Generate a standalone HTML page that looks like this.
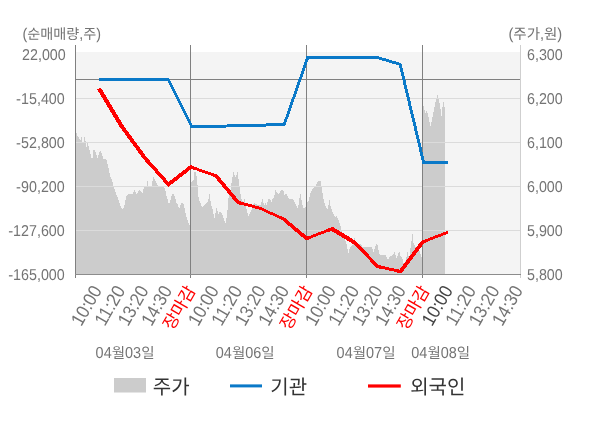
<!DOCTYPE html>
<html lang="ko">
<head>
<meta charset="utf-8">
<title>순매매량 / 주가 차트</title>
<style>
html,body{margin:0;padding:0;background:#fff;}
body{width:600px;height:428px;overflow:hidden;font-family:"Liberation Sans","Noto Sans CJK KR",sans-serif;}
svg{display:block;will-change:transform;}
svg text{font-family:"Liberation Sans","Noto Sans CJK KR",sans-serif;text-rendering:geometricPrecision;}
</style>
</head>
<body>
<svg width="600" height="428" viewBox="0 0 600 428" font-family="'Liberation Sans', 'Noto Sans CJK KR', sans-serif">
<rect width="600" height="428" fill="#fff"/>
<rect x="76" y="52" width="444" height="222" fill="#f4f4f4"/>
<path d="M76,274.5 L76,133 L76.5,133 L77.5,135.5 L78.5,137.5 L79.5,139.5 L80.5,140 L81.5,137 L82.5,141.5 L83.5,142 L84.5,137 L85.5,141 L86.5,146.6 L87.5,143 L88.5,145.6 L89.5,149.6 L90.5,154 L91.5,158 L92.5,158 L93.5,150 L94.5,150 L95.5,151.6 L96.5,155 L97.5,158 L98.5,155 L99.5,152 L100.5,150.6 L101.5,153 L102.5,156 L103.5,158.6 L104.5,159 L105.5,159 L106.5,160 L107.5,164 L108.5,168 L109.5,173 L110.5,177 L111.5,178.6 L112.5,182 L113.5,186 L114.5,189 L115.5,192 L116.5,194.6 L117.5,197 L118.5,200 L119.5,203 L120.5,206 L121.5,208 L122.5,209 L123.5,208 L124.5,205 L125.5,200 L126.5,196 L127.5,194.6 L128.5,194 L129.5,194 L130.5,194 L131.5,194 L132.5,193.6 L133.5,192 L134.5,190 L135.5,191.6 L136.5,193.6 L137.5,193 L138.5,191 L139.5,190 L140.5,190.6 L141.5,192 L142.5,192.6 L143.5,189 L144.5,187 L145.5,186 L146.5,186 L147.5,181 L148.5,185.5 L149.5,186.5 L150.5,186.5 L151.5,186 L152.5,181 L153.5,177 L154.5,179 L155.5,181 L156.5,183 L157.5,185 L158.5,186 L159.5,186 L160.5,186 L161.5,186 L162.5,186 L163.5,186 L164.5,187.5 L165.5,191 L166.5,195.6 L167.5,199.3 L168.5,202.5 L169.5,202.6 L170.5,199.6 L171.5,195.6 L172.5,194 L173.5,194 L174.5,195.6 L175.5,199 L176.5,203 L177.5,204 L178.5,206.5 L179.5,207.6 L180.5,205.2 L181.5,203 L182.5,203 L183.5,204 L184.5,207.8 L185.5,212.8 L186.5,216.8 L187.5,220 L188.5,223 L189.5,224.6 L191.5,181.5 L192.5,181 L193.5,180 L194.5,172 L195.5,172 L196.5,176 L197.5,185 L198.5,197 L199.5,200.5 L200.5,203 L201.5,205.5 L202.5,207 L203.5,206 L204.5,204.5 L205.5,203.5 L206.5,203 L207.5,202 L208.5,199 L209.5,194 L210.5,201 L211.5,206 L212.5,209 L213.5,214 L214.5,218 L215.5,213 L216.5,208 L217.5,210.6 L218.5,214 L219.5,212 L220.5,211.6 L221.5,212.6 L222.5,215 L223.5,217.6 L224.5,220.6 L225.5,223 L226.5,218 L227.5,210 L228.5,198 L229.5,195 L230.5,191 L231.5,183.5 L232.5,177 L233.5,172 L234.5,175 L235.5,177 L236.5,175 L237.5,172 L238.5,179 L239.5,186 L240.5,194 L241.5,199 L242.5,201 L243.5,203 L244.5,199 L245.5,205.5 L246.5,209 L247.5,213 L248.5,215.6 L249.5,213.6 L250.5,211.6 L251.5,209.6 L252.5,207.6 L253.5,203.6 L254.5,203 L255.5,204 L256.5,204.5 L257.5,204.5 L258.5,204.5 L259.5,204.5 L260.5,204.6 L261.5,202 L262.5,199 L263.5,203.3 L264.5,205 L265.5,203 L266.5,205.3 L267.5,202 L268.5,199 L269.5,199.5 L270.5,200 L271.5,202 L272.5,199.3 L273.5,198 L274.5,195 L275.5,190 L276.5,191.6 L277.5,193 L278.5,194 L279.5,193 L280.5,191 L281.5,190 L282.5,190 L283.5,191 L284.5,194.6 L285.5,194 L286.5,194 L287.5,195.6 L288.5,198 L289.5,199 L290.5,199 L291.5,199 L292.5,199 L293.5,200 L294.5,201.6 L295.5,203.6 L296.5,206 L297.5,208.3 L298.5,205.5 L299.5,198.5 L300.5,194 L301.5,200 L302.5,205 L303.5,207.8 L304.5,208 L305.5,207.5 L307.5,202 L308.5,201 L309.5,197.5 L310.5,192.8 L311.5,190.6 L312.5,189 L313.5,187.6 L314.5,186.6 L315.5,185.6 L316.5,184 L317.5,182 L318.5,181 L319.5,181 L320.5,181 L321.5,186 L322.5,193 L323.5,199 L324.5,203 L325.5,205.8 L326.5,207.8 L327.5,208.6 L328.5,205 L329.5,199.5 L330.5,205.5 L331.5,209 L332.5,212 L333.5,213.6 L334.5,215.6 L335.5,217 L336.5,216.3 L337.5,218 L338.5,220.3 L339.5,223 L340.5,226.3 L341.5,230 L342.5,233 L343.5,235 L344.5,237.6 L345.5,240.6 L346.5,244 L347.5,248.5 L348.5,252.6 L349.5,249.5 L350.5,246.8 L351.5,246 L352.5,245 L353.5,242 L354.5,238 L355.5,244 L356.5,246 L357.5,246 L358.5,245 L359.5,244 L360.5,243.5 L361.5,245 L362.5,246.6 L363.5,247 L364.5,247 L365.5,247 L366.5,247 L367.5,247 L368.5,247 L369.5,247 L370.5,247 L371.5,247 L372.5,249 L373.5,252 L374.5,249 L375.5,246.3 L376.5,243.8 L377.5,244.5 L378.5,249.5 L379.5,254 L380.5,255.4 L381.5,255.4 L382.5,255.4 L383.5,255.4 L384.5,255.4 L385.5,255.4 L386.5,257 L387.5,259 L388.5,259 L389.5,257 L390.5,256 L391.5,255.6 L392.5,255 L393.5,253.8 L394.5,252 L395.5,255 L396.5,258 L397.5,255.6 L398.5,252.8 L399.5,252 L400.5,255.6 L401.5,256.6 L402.5,259 L403.5,262.6 L404.5,264 L405.5,261 L406.5,257 L407.5,252 L408.5,255.6 L409.5,256 L410.5,248 L411.5,241 L412.5,234.3 L413.5,242.5 L414.5,245 L415.5,247 L416.5,249 L417.5,250 L418.5,250.5 L419.5,250.6 L420.5,254 L421.5,258 L423.5,106 L424.5,109.6 L425.5,113 L426.5,111 L427.5,113 L428.5,117 L429.5,122 L430.5,126 L431.5,122 L432.5,117 L433.5,112 L434.5,107 L435.5,102 L436.5,98 L437.5,95 L438.5,99 L439.5,103 L440.5,109 L441.5,116 L442.5,107 L443.5,102 L444.5,107 L445,107 L445,274.5 Z" fill="#cccccc" shape-rendering="crispEdges"/>
<rect x="76" y="98" width="444" height="1" fill="#dbdbdb"/>
<rect x="76" y="142" width="444" height="1" fill="#dbdbdb"/>
<rect x="76" y="186" width="444" height="1" fill="#dbdbdb"/>
<rect x="76" y="230" width="444" height="1" fill="#dbdbdb"/>
<rect x="520" y="45" width="1" height="233" fill="#cfcfcf"/>
<rect x="76" y="79" width="444" height="1" fill="#808080"/>
<rect x="75" y="45" width="1" height="233" fill="#808080"/>
<rect x="190" y="45" width="1" height="233" fill="#808080"/>
<rect x="306" y="45" width="1" height="233" fill="#808080"/>
<rect x="422" y="45" width="1" height="233" fill="#808080"/>
<rect x="75" y="274" width="446" height="1" fill="#8c8c8c"/>
<g stroke="#0a79c8" fill="none" stroke-linejoin="miter" stroke-miterlimit="8" shape-rendering="crispEdges"><line x1="99" y1="79.5" x2="122.1" y2="79.5" stroke-width="3"/><line x1="122.1" y1="79.5" x2="145.3" y2="79.5" stroke-width="3"/><line x1="145.3" y1="79.5" x2="168.4" y2="79.5" stroke-width="3"/><line x1="168.4" y1="79.5" x2="191.6" y2="126.5" stroke-width="2.69"/><line x1="191.6" y1="126.5" x2="214" y2="126.25" stroke-width="3"/><line x1="214" y1="126.25" x2="237.2" y2="125.8" stroke-width="3"/><line x1="237.2" y1="125.8" x2="260.3" y2="125.2" stroke-width="3"/><line x1="260.3" y1="125.2" x2="284.3" y2="124.4" stroke-width="3"/><line x1="284.3" y1="124.4" x2="307.7" y2="57.5" stroke-width="2.83"/><line x1="307.7" y1="57.5" x2="329.8" y2="57.5" stroke-width="3"/><line x1="329.8" y1="57.5" x2="353" y2="57.5" stroke-width="3"/><line x1="353" y1="57.5" x2="377.3" y2="57.5" stroke-width="3"/><line x1="377.3" y1="57.5" x2="400.2" y2="64.4" stroke-width="2.87"/><line x1="400.2" y1="64.4" x2="423.6" y2="162.4" stroke-width="2.92"/><line x1="423.6" y1="162.4" x2="447.8" y2="162.4" stroke-width="3"/><polyline stroke-width="3" points="118.1,79.5 122.1,79.5 126.1,79.5"/><polyline stroke-width="3" points="141.3,79.5 145.3,79.5 149.3,79.5"/><polyline stroke-width="2.85" points="164.4,79.5 168.4,79.5 170.17,83.09"/><polyline stroke-width="2.84" points="189.83,122.91 191.6,126.5 195.6,126.46"/><polyline stroke-width="3" points="210,126.29 214,126.25 218,126.17"/><polyline stroke-width="3" points="233.2,125.88 237.2,125.8 241.2,125.7"/><polyline stroke-width="3" points="256.3,125.3 260.3,125.2 264.3,125.07"/><polyline stroke-width="2.92" points="280.3,124.53 284.3,124.4 285.62,120.62"/><polyline stroke-width="2.92" points="306.38,61.28 307.7,57.5 311.7,57.5"/><polyline stroke-width="3" points="325.8,57.5 329.8,57.5 333.8,57.5"/><polyline stroke-width="3" points="349,57.5 353,57.5 357,57.5"/><polyline stroke-width="2.94" points="373.3,57.5 377.3,57.5 381.13,58.65"/><polyline stroke-width="2.9" points="396.37,63.25 400.2,64.4 401.13,68.29"/><polyline stroke-width="2.96" points="422.67,158.51 423.6,162.4 427.6,162.4"/></g>
<g stroke="#ff0000" fill="none" stroke-linejoin="miter" stroke-miterlimit="8" shape-rendering="crispEdges"><line x1="99" y1="88.6" x2="122" y2="126.8" stroke-width="4.11"/><line x1="122" y1="126.8" x2="145.5" y2="158.8" stroke-width="3.87"/><line x1="145.5" y1="158.8" x2="168.5" y2="184.4" stroke-width="3.57"/><line x1="168.5" y1="184.4" x2="190.8" y2="167" stroke-width="3.78"/><line x1="190.8" y1="167" x2="215.8" y2="175.7" stroke-width="2.83"/><line x1="215.8" y1="175.7" x2="238.1" y2="202.5" stroke-width="3.69"/><line x1="238.1" y1="202.5" x2="260.4" y2="208.3" stroke-width="2.9"/><line x1="260.4" y1="208.3" x2="283.7" y2="219.2" stroke-width="2.72"/><line x1="283.7" y1="219.2" x2="306.7" y2="238.5" stroke-width="3.68"/><line x1="306.7" y1="238.5" x2="332" y2="228.8" stroke-width="2.8"/><line x1="332" y1="228.8" x2="354.8" y2="242.7" stroke-width="4.1"/><line x1="354.8" y1="242.7" x2="377.7" y2="266.5" stroke-width="3.46"/><line x1="377.7" y1="266.5" x2="400.5" y2="271.5" stroke-width="2.93"/><line x1="400.5" y1="271.5" x2="422.7" y2="242" stroke-width="3.84"/><line x1="422.7" y1="242" x2="448.2" y2="232" stroke-width="2.79"/><polyline stroke-width="3.99" points="119.94,123.37 122,126.8 124.37,130.02"/><polyline stroke-width="3.72" points="143.13,155.58 145.5,158.8 148.17,161.78"/><polyline stroke-width="3.68" points="165.83,181.42 168.5,184.4 171.65,181.94"/><polyline stroke-width="3.31" points="187.65,169.46 190.8,167 194.58,168.31"/><polyline stroke-width="3.26" points="212.02,174.39 215.8,175.7 218.36,178.77"/><polyline stroke-width="3.3" points="235.54,199.43 238.1,202.5 241.97,203.51"/><polyline stroke-width="2.81" points="256.53,207.29 260.4,208.3 264.02,209.99"/><polyline stroke-width="3.2" points="280.08,217.51 283.7,219.2 286.76,221.77"/><polyline stroke-width="3.24" points="303.64,235.93 306.7,238.5 310.43,237.07"/><polyline stroke-width="3.45" points="328.27,230.23 332,228.8 335.42,230.88"/><polyline stroke-width="3.78" points="351.38,240.62 354.8,242.7 357.57,245.58"/><polyline stroke-width="3.19" points="374.93,263.62 377.7,266.5 381.61,267.36"/><polyline stroke-width="3.38" points="396.59,270.64 400.5,271.5 402.91,268.3"/><polyline stroke-width="3.31" points="420.29,245.2 422.7,242 426.42,240.54"/></g>
<g fill="#747474" font-size="14.3"><text x="22.04" y="59.7" font-size="15.73" textLength="43.66" lengthAdjust="spacingAndGlyphs">22,000</text></g>
<g fill="#747474" font-size="14.3"><text y="104.1" font-size="15.73"><tspan x="16.08" textLength="4.96" lengthAdjust="spacingAndGlyphs">-</tspan><tspan x="21.04" textLength="43.66" lengthAdjust="spacingAndGlyphs">15,400</tspan></text></g>
<g fill="#747474" font-size="14.3"><text y="148.1" font-size="15.73"><tspan x="16.08" textLength="4.96" lengthAdjust="spacingAndGlyphs">-</tspan><tspan x="21.04" textLength="43.66" lengthAdjust="spacingAndGlyphs">52,800</tspan></text></g>
<g fill="#747474" font-size="14.3"><text y="192.1" font-size="15.73"><tspan x="16.08" textLength="4.96" lengthAdjust="spacingAndGlyphs">-</tspan><tspan x="21.04" textLength="43.66" lengthAdjust="spacingAndGlyphs">90,200</tspan></text></g>
<g fill="#747474" font-size="14.3"><text y="236.1" font-size="15.73"><tspan x="8.14" textLength="4.96" lengthAdjust="spacingAndGlyphs">-</tspan><tspan x="13.11" textLength="51.59" lengthAdjust="spacingAndGlyphs">127,600</tspan></text></g>
<g fill="#747474" font-size="14.3"><text y="280.1" font-size="15.73"><tspan x="8.14" textLength="4.96" lengthAdjust="spacingAndGlyphs">-</tspan><tspan x="13.11" textLength="51.59" lengthAdjust="spacingAndGlyphs">165,000</tspan></text></g>
<g fill="#747474" font-size="14.3"><text x="527" y="59.6" font-size="15.73" textLength="35.72" lengthAdjust="spacingAndGlyphs">6,300</text></g>
<g fill="#747474" font-size="14.3"><text x="527" y="104.1" font-size="15.73" textLength="35.72" lengthAdjust="spacingAndGlyphs">6,200</text></g>
<g fill="#747474" font-size="14.3"><text x="527" y="148.1" font-size="15.73" textLength="35.72" lengthAdjust="spacingAndGlyphs">6,100</text></g>
<g fill="#747474" font-size="14.3"><text x="527" y="192.1" font-size="15.73" textLength="35.72" lengthAdjust="spacingAndGlyphs">6,000</text></g>
<g fill="#747474" font-size="14.3"><text x="527" y="236.1" font-size="15.73" textLength="35.72" lengthAdjust="spacingAndGlyphs">5,900</text></g>
<g fill="#747474" font-size="14.3"><text x="527" y="280.1" font-size="15.73" textLength="35.72" lengthAdjust="spacingAndGlyphs">5,800</text></g>
<g fill="#747474" font-size="14.15"><text x="22.4" y="39" font-size="15.57" textLength="4.78" lengthAdjust="spacingAndGlyphs">(</text><text x="27.18" y="39" textLength="52.07" lengthAdjust="spacingAndGlyphs">순매매량</text><text x="79.25" y="39" font-size="15.57" textLength="3.93" lengthAdjust="spacingAndGlyphs">,</text><text x="83.19" y="39">주</text><text x="96.21" y="39" font-size="15.57" textLength="4.78" lengthAdjust="spacingAndGlyphs">)</text></g>
<g fill="#747474" font-size="14.5"><text x="508.4" y="39" font-size="15.95" textLength="4.9" lengthAdjust="spacingAndGlyphs">(</text><text x="513.3" y="39" textLength="26.68" lengthAdjust="spacingAndGlyphs">주가</text><text x="539.98" y="39" font-size="15.95" textLength="4.03" lengthAdjust="spacingAndGlyphs">,</text><text x="544.01" y="39">원</text><text x="557.35" y="39" font-size="15.95" textLength="4.9" lengthAdjust="spacingAndGlyphs">)</text></g>
<g fill="#747474" font-size="14.5"><text x="95.6" y="358.3" font-size="15.95" textLength="16.09" lengthAdjust="spacingAndGlyphs">04</text><text x="111.69" y="358.3">월</text><text x="125.03" y="358.3" font-size="15.95" textLength="16.09" lengthAdjust="spacingAndGlyphs">03</text><text x="141.13" y="358.3">일</text></g>
<g fill="#747474" font-size="14.5"><text x="215.8" y="358.3" font-size="15.95" textLength="16.09" lengthAdjust="spacingAndGlyphs">04</text><text x="231.9" y="358.3">월</text><text x="245.24" y="358.3" font-size="15.95" textLength="16.09" lengthAdjust="spacingAndGlyphs">06</text><text x="261.33" y="358.3">일</text></g>
<g fill="#747474" font-size="14.5"><text x="336.6" y="358.3" font-size="15.95" textLength="16.09" lengthAdjust="spacingAndGlyphs">04</text><text x="352.7" y="358.3">월</text><text x="366.04" y="358.3" font-size="15.95" textLength="16.09" lengthAdjust="spacingAndGlyphs">07</text><text x="382.13" y="358.3">일</text></g>
<g fill="#747474" font-size="14.5"><text x="411.3" y="358.3" font-size="15.95" textLength="16.09" lengthAdjust="spacingAndGlyphs">04</text><text x="427.39" y="358.3">월</text><text x="440.73" y="358.3" font-size="15.95" textLength="16.09" lengthAdjust="spacingAndGlyphs">08</text><text x="456.83" y="358.3">일</text></g>
<g transform="translate(102.5,290.3) rotate(-60)"><g fill="#747474" font-size="17"><text x="-42.47" y="0" font-size="18.7" textLength="42.47" lengthAdjust="spacingAndGlyphs">10:00</text></g></g>
<g transform="translate(125.89,290.3) rotate(-60)"><g fill="#747474" font-size="17"><text x="-42.47" y="0" font-size="18.7" textLength="42.47" lengthAdjust="spacingAndGlyphs">11:20</text></g></g>
<g transform="translate(149.28,290.3) rotate(-60)"><g fill="#747474" font-size="17"><text x="-42.47" y="0" font-size="18.7" textLength="42.47" lengthAdjust="spacingAndGlyphs">13:20</text></g></g>
<g transform="translate(172.67,290.3) rotate(-60)"><g fill="#747474" font-size="17"><text x="-42.47" y="0" font-size="18.7" textLength="42.47" lengthAdjust="spacingAndGlyphs">14:30</text></g></g>
<g transform="translate(196.06,290.3) rotate(-60)"><g fill="#ff0000" font-size="17"><text x="-46.92" y="0" textLength="46.92" lengthAdjust="spacingAndGlyphs">장마감</text></g></g>
<g transform="translate(219.45,290.3) rotate(-60)"><g fill="#747474" font-size="17"><text x="-42.47" y="0" font-size="18.7" textLength="42.47" lengthAdjust="spacingAndGlyphs">10:00</text></g></g>
<g transform="translate(242.84,290.3) rotate(-60)"><g fill="#747474" font-size="17"><text x="-42.47" y="0" font-size="18.7" textLength="42.47" lengthAdjust="spacingAndGlyphs">11:20</text></g></g>
<g transform="translate(266.23,290.3) rotate(-60)"><g fill="#747474" font-size="17"><text x="-42.47" y="0" font-size="18.7" textLength="42.47" lengthAdjust="spacingAndGlyphs">13:20</text></g></g>
<g transform="translate(289.62,290.3) rotate(-60)"><g fill="#747474" font-size="17"><text x="-42.47" y="0" font-size="18.7" textLength="42.47" lengthAdjust="spacingAndGlyphs">14:30</text></g></g>
<g transform="translate(313.01,290.3) rotate(-60)"><g fill="#ff0000" font-size="17"><text x="-46.92" y="0" textLength="46.92" lengthAdjust="spacingAndGlyphs">장마감</text></g></g>
<g transform="translate(336.4,290.3) rotate(-60)"><g fill="#747474" font-size="17"><text x="-42.47" y="0" font-size="18.7" textLength="42.47" lengthAdjust="spacingAndGlyphs">10:00</text></g></g>
<g transform="translate(359.79,290.3) rotate(-60)"><g fill="#747474" font-size="17"><text x="-42.47" y="0" font-size="18.7" textLength="42.47" lengthAdjust="spacingAndGlyphs">11:20</text></g></g>
<g transform="translate(383.18,290.3) rotate(-60)"><g fill="#747474" font-size="17"><text x="-42.47" y="0" font-size="18.7" textLength="42.47" lengthAdjust="spacingAndGlyphs">13:20</text></g></g>
<g transform="translate(406.57,290.3) rotate(-60)"><g fill="#747474" font-size="17"><text x="-42.47" y="0" font-size="18.7" textLength="42.47" lengthAdjust="spacingAndGlyphs">14:30</text></g></g>
<g transform="translate(429.96,290.3) rotate(-60)"><g fill="#ff0000" font-size="17"><text x="-46.92" y="0" textLength="46.92" lengthAdjust="spacingAndGlyphs">장마감</text></g></g>
<g transform="translate(453.35,290.3) rotate(-60)"><g fill="#444444" font-size="17"><text x="-42.47" y="0" font-size="18.7" textLength="42.47" lengthAdjust="spacingAndGlyphs">10:00</text></g></g>
<g transform="translate(476.74,290.3) rotate(-60)"><g fill="#747474" font-size="17"><text x="-42.47" y="0" font-size="18.7" textLength="42.47" lengthAdjust="spacingAndGlyphs">11:20</text></g></g>
<g transform="translate(500.13,290.3) rotate(-60)"><g fill="#747474" font-size="17"><text x="-42.47" y="0" font-size="18.7" textLength="42.47" lengthAdjust="spacingAndGlyphs">13:20</text></g></g>
<g transform="translate(523.52,290.3) rotate(-60)"><g fill="#747474" font-size="17"><text x="-42.47" y="0" font-size="18.7" textLength="42.47" lengthAdjust="spacingAndGlyphs">14:30</text></g></g>
<rect x="114" y="378" width="32" height="14.5" fill="#cccccc"/>
<g fill="#333333" font-size="20"><text x="152.8" y="394.2" textLength="36.8" lengthAdjust="spacingAndGlyphs">주가</text></g>
<rect x="230" y="384.4" width="32" height="3" fill="#0a79c8"/>
<g fill="#333333" font-size="20"><text x="270.3" y="394.2" textLength="36.8" lengthAdjust="spacingAndGlyphs">기관</text></g>
<rect x="368" y="384.4" width="32.8" height="3.2" fill="#ff0000"/>
<g fill="#333333" font-size="20"><text x="410.2" y="394.2" textLength="55.2" lengthAdjust="spacingAndGlyphs">외국인</text></g>
</svg>
</body>
</html>
